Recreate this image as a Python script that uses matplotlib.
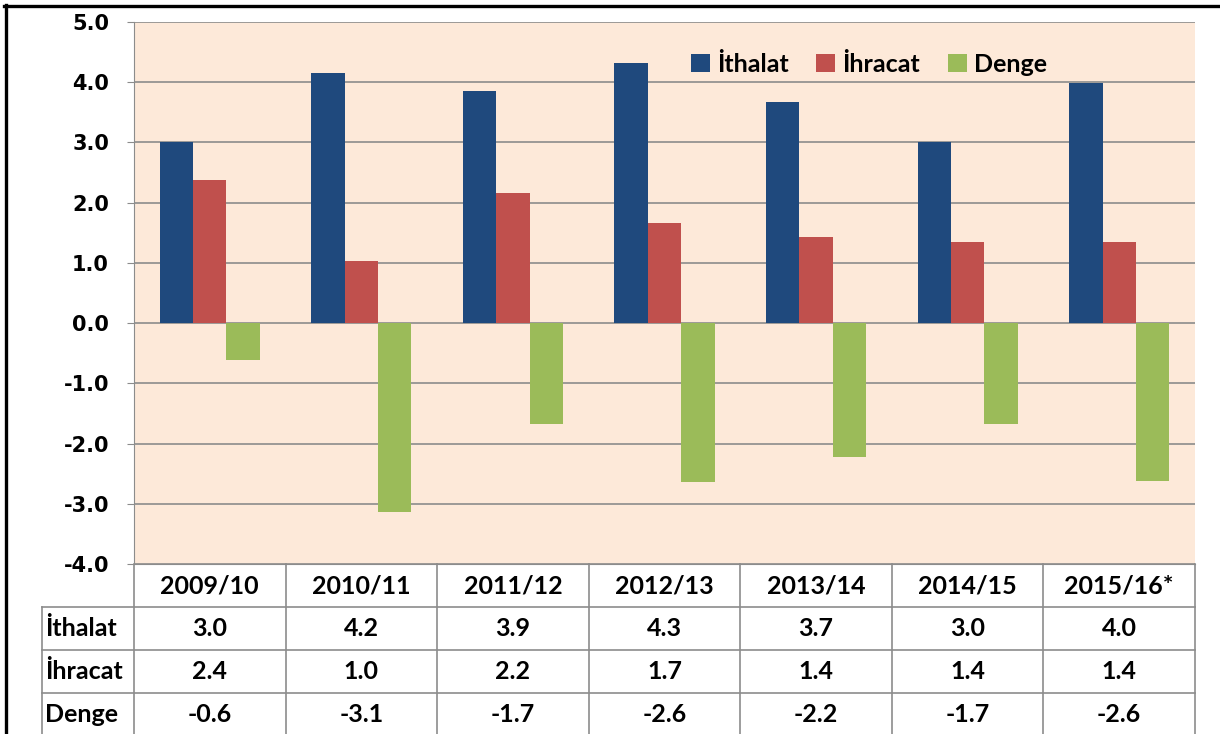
import matplotlib
matplotlib.use("Agg")
import matplotlib.pyplot as plt
from matplotlib.lines import Line2D
import numpy as np

years = ["2009/10", "2010/11", "2011/12", "2012/13", "2013/14", "2014/15", "2015/16*"]
ithalat = [3.0, 4.15, 3.85, 4.32, 3.67, 3.0, 3.99]
ihracat = [2.38, 1.03, 2.16, 1.66, 1.43, 1.35, 1.35]
denge = [-0.61, -3.13, -1.68, -2.64, -2.23, -1.68, -2.63]

row_names = ["İthalat", "İhracat", "Denge"]
tab_ithalat = ["3.0", "4.2", "3.9", "4.3", "3.7", "3.0", "4.0"]
tab_ihracat = ["2.4", "1.0", "2.2", "1.7", "1.4", "1.4", "1.4"]
tab_denge = ["-0.6", "-3.1", "-1.7", "-2.6", "-2.2", "-1.7", "-2.6"]

c_blue = "#1F497D"
c_red = "#C0504D"
c_green = "#9BBB59"
grid_c = "#8C8C8C"
tfont = "Lato"

W, H = 1220, 734
fig = plt.figure(figsize=(W / 100, H / 100), dpi=100)
ax = fig.add_axes([134 / W, 1 - 564 / H, (1195 - 134) / W, (564 - 22) / H])
ax.set_facecolor("#FDE9D9")

x = np.arange(len(years))
bw = 0.22
ax.bar(x - bw, ithalat, bw, color=c_blue, label="İthalat", zorder=3)
ax.bar(x, ihracat, bw, color=c_red, label="İhracat", zorder=3)
ax.bar(x + bw, denge, bw, color=c_green, label="Denge", zorder=3)

ax.set_xlim(-0.5, len(years) - 0.5)
ax.set_ylim(-4, 5)
ax.set_yticks(np.arange(-4, 6, 1))
ax.set_yticklabels([f"{v:.1f}" for v in np.arange(-4, 6, 1)],
                   fontsize=15, fontweight="bold", family="DejaVu Sans")
ax.tick_params(axis="y", length=5, color=grid_c, pad=13)
ax.set_xticks([])
ax.yaxis.grid(True, color=grid_c, linewidth=1.2, zorder=0)
ax.set_axisbelow(True)
for s in ["top", "right"]:
    ax.spines[s].set_visible(False)
ax.spines["left"].set_color(grid_c)
ax.spines["bottom"].set_color(grid_c)

leg = ax.legend(loc="center", bbox_to_anchor=(869 / W, 1 - 64 / H),
                bbox_transform=fig.transFigure, ncol=3, frameon=False,
                handlelength=0.75, handleheight=0.75, handletextpad=0.3,
                columnspacing=1.1, prop={"family": tfont, "weight": "bold", "size": 18})

# data table under the axis
tr = ax.get_xaxis_transform()
rh = 43 / 542
px = len(years) / (1195 - 134)
xl = -0.5 - (134 - 42) * px
lk = dict(transform=tr, clip_on=False, color=grid_c, linewidth=1.2)
for k in range(1, 4):
    ax.plot([xl, len(years) - 0.5], [-k * rh, -k * rh], **lk)
ax.plot([xl, xl], [-rh, -4 * rh], **lk)
for i in range(len(years) + 1):
    ax.plot([i - 0.5, i - 0.5], [0, -4 * rh], **lk)

tk = dict(transform=tr, clip_on=False, family=tfont, weight="bold", fontsize=18, va="center")
for i, yr in enumerate(years):
    ax.text(i, -0.5 * rh, yr, ha="center", **tk)
rows = [tab_ithalat, tab_ihracat, tab_denge]
for r, (name, vals) in enumerate(zip(row_names, rows)):
    yc = -(r + 1.5) * rh
    ax.text(xl + 3 * px, yc, name, ha="left", **tk)
    for i, v in enumerate(vals):
        ax.text(i, yc, v, ha="center", **tk)

# black frame on top and left
fig.add_artist(Line2D([4 / W, 1218 / W], [1 - 6 / H, 1 - 6 / H], color="black", linewidth=2.4))
fig.add_artist(Line2D([6 / W, 6 / W], [0, 1 - 5 / H], color="black", linewidth=2.4))

fig.savefig("out.png", dpi=100)
